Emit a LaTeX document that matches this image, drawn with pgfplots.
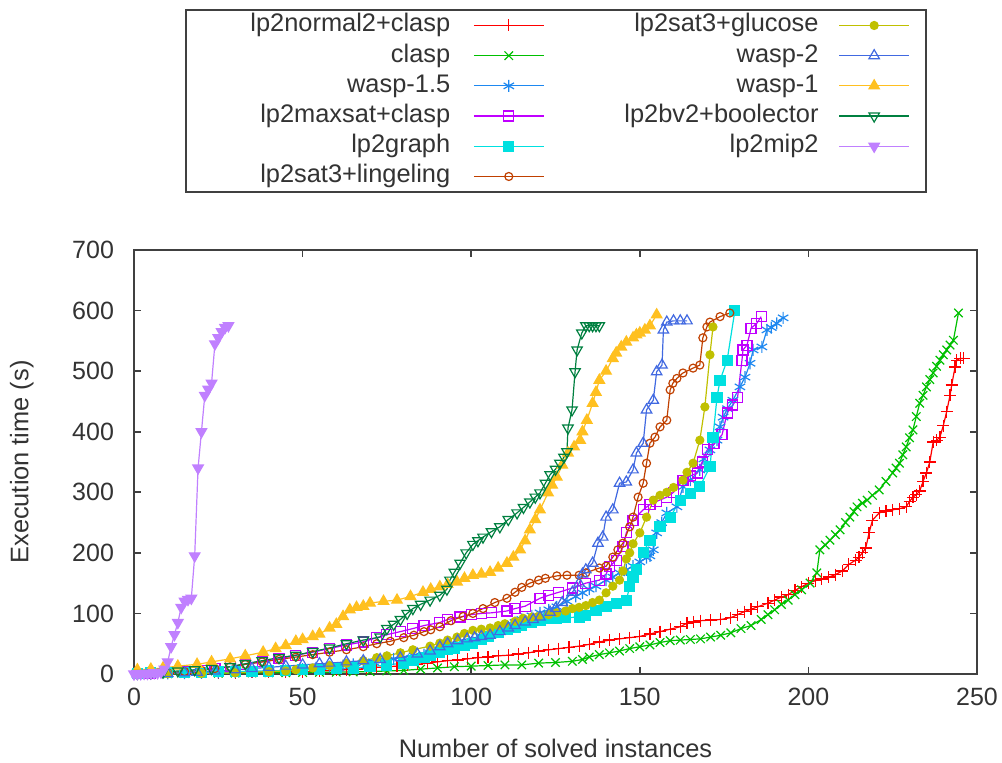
\documentclass[border=0pt]{standalone}
\usepackage{fontspec}
\setmainfont{Liberation Sans}
\usepackage{pgfplots}
\pgfplotsset{compat=1.18}

\definecolor{cRed}{HTML}{FF0000}
\definecolor{cGreen}{HTML}{00C000}
\definecolor{cDodger}{HTML}{1E88F0}
\definecolor{cPurple}{HTML}{C000FF}
\definecolor{cCyan}{HTML}{00E0E0}
\definecolor{cBrown}{HTML}{C04000}
\definecolor{cOlive}{HTML}{C0C000}
\definecolor{cRoyal}{HTML}{4169E1}
\definecolor{cGold}{HTML}{FFC020}
\definecolor{cDkGreen}{HTML}{008040}
\definecolor{cLav}{HTML}{C080FF}

\pgfplotsset{
  s1/.style={color=cRed, mark=+, mark size=3pt, line width=0.6pt, mark options={solid}},
  s2/.style={color=cGreen, mark=x, mark size=3pt, line width=0.6pt, mark options={solid}},
  s3/.style={color=cDodger, mark=asterisk, mark size=3pt, line width=0.6pt, mark options={solid}},
  s4/.style={color=cPurple, mark=square, mark size=2.5pt, line width=0.6pt, mark options={solid}},
  s5/.style={color=cCyan, mark=square*, mark size=2.5pt, line width=0.6pt, mark options={solid}},
  s6/.style={color=cBrown, mark=o, mark size=2pt, line width=0.6pt, mark options={solid}},
  s7/.style={color=cOlive, mark=*, mark size=2pt, line width=0.6pt, mark options={solid}},
  s8/.style={color=cRoyal, mark=triangle, mark size=3pt, line width=0.6pt, mark options={solid}},
  s9/.style={color=cGold, mark=triangle*, mark size=3pt, line width=0.6pt, mark options={solid}},
  s10/.style={color=cDkGreen, mark=triangle, mark size=3pt, line width=0.6pt, mark options={solid, rotate=180}},
  s11/.style={color=cLav, mark=triangle*, mark size=3pt, line width=0.6pt, mark options={solid, rotate=180}},
}

\begin{document}
\begin{tikzpicture}
\begin{axis}[
    scale only axis,
    width=421.5pt, height=212pt,
    xmin=0, xmax=250,
    ymin=0, ymax=700,
    xtick={0,50,...,250},
    ytick={0,100,...,700},
    tick align=inside,
    major tick length=3.5pt,
    axis line style={line width=0.9pt, black!75},
    every tick/.style={black!75, line width=0.8pt},
    tick label style={font=\fontsize{12.5}{15}\selectfont, text=black!80},
    /pgf/number format/assume math mode=true,
    x tick label style={yshift=-3.5pt},
    y tick label style={xshift=-6.5pt},
    xlabel={Number of solved instances},
    ylabel={Execution time (s)},
    every axis x label/.style={at={(axis description cs:0.5,0)}, anchor=center, yshift=-37pt,
        font=\fontsize{12.7}{15}\selectfont, text=black!80},
    every axis y label/.style={at={(axis description cs:-0.133,0.5)}, anchor=center, rotate=90,
        font=\fontsize{12.7}{15}\selectfont, text=black!80},
    clip=false,
    legend columns=2,
    legend plot pos=right,
    legend cell align=right,
    legend image code/.code={\draw[mark repeat=2,mark phase=2,#1] plot coordinates {(0pt,0pt) (17.5pt,0pt) (35pt,0pt)};},
    legend style={
        at={(0.5006,1.568)}, anchor=north,
        draw=black!75, line width=0.8pt,
        inner xsep=8pt, inner ysep=1.5pt,
        row sep=2.6pt,
        font=\fontsize{12.7}{15}\selectfont,
        text=black!80,
        nodes={inner sep=0pt, text height=9.5pt, text depth=3pt},
        /tikz/column 1/.style={column sep=11.5pt, nodes={text width=124pt, align=right}},
        /tikz/column 2/.style={column sep=40pt},
        /tikz/column 3/.style={column sep=10pt},
    },
]

% lp2normal2+clasp
\addplot[s1, forget plot] coordinates {
(1,0.5)(5,0.5)(10,1)(15,1)(20,1.5)(25,1.5)(30,2)(35,2.5)(40,3)(45,3.5)(50,4)(55,5)(60,6)(63,7)(66,8)(69,9)(72,11)(75,12)(78,13)(81,15)(84,16)(87,18)(90,20)(93,22)(96,23)(99,25)(102,27)(105,28)(108,30)(111,31)(114,33)(117,35)(120,38)(123,40)(126,42)(129,44)(132,46)(135,49)(138,53)(141,56)(144,58)(147,60)(150,62)(153,66)(156,70)(159,74)(162,78)(164,84)(166,86)(168,88)(171,89)(174,90)(177,93)(179,98)(181,103)(183,107)(185,111)(188,117)(190,122)(192,127)(194,131)(196,138)(198,144)(200,150)(202,154)(204,157)(206,160)(208,164)(210,170)(212,181)(214,188)(215,193)(216,200)(217,208)(218,233)(219,254)(221,266)(223,269)(225,271)(227,273)(229,276)(230,285)(231,292)(232,296)(233,302)(234,318)(235,332)(236,350)(237,383)(238,386)(239,391)(240,410)(241,433)(242,460)(242.5,477)(243.5,507)(244,518)(245,521)(246,521)
};
% clasp
\addplot[s2, forget plot] coordinates {
(1,0.3)(5,0.3)(10,0.5)(15,0.7)(20,1)(25,1.2)(30,1.5)(35,1.7)(40,2)(45,2.2)(50,2.5)(55,2.8)(60,3)(65,3.5)(70,4)(75,5)(80,6)(85,8)(90,10)(95,12)(100,13)(105,14)(110,15)(115,15)(120,18)(125,19)(130,21)(133,24)(135,28)(138,32)(141,35)(144,38)(147,42)(150,45)(153,48)(156,52)(159,55)(162,56)(165,57)(168,58)(171,61)(174,64)(177,68)(180,75)(183,80)(186,90)(188,98)(190,106)(192,115)(194,122)(196,131)(198,139)(200.5,150)(202.5,167)(203.4,205)(205,213)(206.4,221)(208,230)(209.4,238)(211,250)(212.3,259)(213.5,268)(214.4,276)(216,282)(217.4,287)(219,295)(221,304)(223,318)(225,332)(226,340)(227,348)(228,362)(229,375)(230,390)(231,403)(232,425)(233,447)(234,460)(235,474)(236,486)(237,497)(238,508)(239,518)(240,527)(241,535)(242,543)(243,551)(244.5,596)
};
% wasp-1.5
\addplot[s3, forget plot] coordinates {
(1,0.5)(5,0.7)(10,1)(15,1.5)(20,2)(25,2.5)(30,3)(35,4)(40,5)(45,6)(50,8)(54,10)(58,12)(62,14)(65,16)(68,18)(71,20)(74,23)(77,25)(80,27)(83,30)(86,32)(88,35)(90.7,40)(93,45)(95,48)(98,52)(100.5,57)(103,62)(105,67)(108,73)(110.6,78)(113,85)(115,90)(118,96)(120.4,101)(123,106)(125.4,111)(128.4,120)(131,128)(133,134)(135,140)(137,145)(140,155)(142,160)(144,167)(146,172)(148,178)(150,185)(152,192)(153,195)(154,205)(155,233)(156.5,250)(158,266)(161,276)(162.8,309)(165,320)(167.8,337)(169,355)(170.8,370)(172.9,386)(173.8,408)(174.7,424)(176,438)(177.6,452)(179.7,474)(181.2,490)(182.7,513)(183.6,535)(186.2,540)(187.7,568)(189,572)(190.6,579)(192.5,588)
};
% lp2maxsat+clasp
\addplot[s4, forget plot] coordinates {
(1,0.5)(5,1)(10,2)(15,4)(20,6)(24,9)(28.5,12)(33,16)(38,20)(43,25)(48,31)(53,36)(58,42)(63,48)(68,53)(72,60)(75,65)(79,70)(82.7,75)(86,80)(90.7,85)(93,90)(96.7,94)(100,98)(103,100)(106,101)(110.6,104)(113,108)(116,112)(120.4,125)(123,130)(126,135)(130,142)(134,150)(138,155)(140,165)(141,177)(143,188)(145,210)(146,233)(148,254)(151,271)(153,280)(155,285)(158,292)(160,300)(162.8,320)(165,327)(167,332)(168.5,350)(170,370)(172,380)(174.4,395)(175.9,431)(177.6,444)(179,457)(180.3,518)(180.6,535)(181.8,543)(183,571)(184.7,579)(186,590)
};
% lp2graph
\addplot[s5, forget plot] coordinates {
(1,1)(5,2)(10,2)(15,2.5)(20,3)(25,3.5)(30,4)(35,4.5)(40,5)(45,6)(50,7)(55,8)(60,9)(65,10)(70,12)(75,15)(80,18)(83,22)(86,27)(88,30)(90.7,35)(93,40)(95,43)(98,47)(100.5,51)(103,57)(105,62)(108,68)(110.6,73)(113,77)(115,80)(118,85)(120.4,89)(123,91)(125.4,92)(128,93)(132,94)(134,97)(137,105)(140,111)(143,117)(146,122)(147,144)(148,160)(149,172)(151,200)(153,221)(156,243)(159,259)(162,287)(165,298)(167.8,309)(170.8,342)(171.7,391)(172.9,457)(173.8,485)(175.9,518)(178.2,600)
};
% lp2sat3+lingeling
\addplot[s6, forget plot] coordinates {
(1,0.5)(5,1)(10,2)(15,4)(20,6)(24,9)(28.5,12)(33,16)(38,20)(43,24)(48,28)(53,32)(58,36)(63,40)(68,45)(72,50)(76,54)(80,60)(83,64)(86,70)(88,73)(90.7,78)(94,88)(97.6,95)(100.5,100)(103.5,108)(107,118)(110.6,125)(113,135)(115,143)(117.4,150)(120,155)(122,158)(125.4,162)(128.4,163)(132,163)(134,167)(138,175)(140,178)(142,193)(143.5,205)(145,216)(147,243)(148,259)(149.5,292)(151,315)(152,348)(153,381)(154.5,391)(156,408)(158,419)(159,469)(159.8,480)(161,488)(162.8,497)(165.8,505)(167.8,510)(168.7,555)(169.9,573)(170.8,581)(173.8,590)(176.7,596)
};
% lp2sat3+glucose
\addplot[s7, forget plot] coordinates {
(1,0.3)(10,0.5)(20,1)(30,2)(40,4)(45,5)(48,7)(53,10)(58,14)(63,18)(68,22)(72,27)(75,30)(79,35)(82.7,40)(87.8,46)(90.7,51)(93,56)(95.8,61)(98,67)(100.5,72)(103,74)(105.6,76)(108,80)(110,83)(113,87)(115.4,92)(118,94)(120,95)(123,98)(125.4,101)(128,104)(130,108)(132,110)(134,113)(136,118)(138,122)(140,134)(142,145)(144,155)(145,170)(146,190)(147,200)(148,215)(150,233)(152,259)(154,287)(156,295)(158,300)(160,308)(162.8,320)(164,333)(165.8,348)(167.8,386)(169.3,441)(170.8,527)(171.7,573)
};
% wasp-2
\addplot[s8, forget plot] coordinates {
(1,0.3)(5,0.5)(10,1)(15,2)(18.7,3)(24,5)(30,7)(35,9)(40,11)(45,13)(50,15)(55,17)(58,18)(63,20)(68,22)(73,24)(79,27)(84,33)(87.8,38)(90.7,45)(93,50)(96,55)(98.8,58)(101,60)(103,62)(105.6,64)(108.5,70)(111,76)(113,80)(116,86)(118.4,90)(120.4,94)(123.4,102)(125,108)(127,118)(130,135)(132,150)(133,165)(134,172)(136,183)(137.6,216)(139,226)(140,259)(142,271)(144,315)(146,317)(148,337)(149,365)(151,381)(152,436)(154,452)(155,499)(156.6,510)(157,568)(158,581)(160,583)(162,583)(164,583)
};
% wasp-1
\addplot[s9, forget plot] coordinates {
(1,7)(5,8)(8.6,10)(13,13)(18.7,16)(23,20)(28.5,25)(33,30)(38.3,36)(42,42)(45,47)(48,54)(50,57)(53,62)(55,66)(58,76)(60,82)(62,95)(64,106)(66,110)(68,112)(70,117)(74,120)(78,122)(82,128)(85.7,135)(88,140)(90.7,144)(93,148)(95.8,152)(98,158)(100.5,163)(103,165)(105.6,168)(108,175)(110.6,183)(112.5,193)(114.5,205)(116,220)(117.4,238)(119,255)(120.4,271)(122.8,299)(124,312)(125.4,325)(127,345)(128.7,365)(130.5,375)(132.3,386)(133,400)(134.3,419)(136,447)(137,465)(138,485)(140,500)(142,521)(143,530)(144.5,540)(146,548)(148,555)(149,560)(150,563)(151.5,568)(153,575)(155,593)
};
% lp2bv2+boolector
\addplot[s10, forget plot] coordinates {
(1,1)(5,2)(8.6,3)(13,5)(18,7)(23,9)(28.5,12)(33,17)(38,22)(43,27)(48,31)(53,37)(58,43)(63,50)(68,56)(73,61)(75,75)(77,82)(79,90)(81,100)(82.7,108)(85,115)(87.8,122)(90.7,130)(92.8,140)(93.7,155)(95,168)(96.7,183)(98.5,200)(100.5,214)(102,220)(103.5,226)(106,235)(108.5,243)(111,255)(113.6,266)(115.5,275)(117.4,284)(119,292)(120.4,299)(122,315)(123.4,329)(125,338)(126.3,348)(127.5,358)(128.4,367)(128.7,406)(129.9,436)(130.8,499)(131.4,535)(132.8,563)(134,575)(135,575)(136,575)(137,575)(138,575)
};
% lp2mip2
\addplot[s11, forget plot] coordinates {
(0,0)(1,0.5)(2,0.5)(3,1)(4,1)(5,1.5)(6,2)(7,2)(8,3)(9,8)(10,20)(11,45)(12,65)(13,85)(14,110)(15,120)(16,123)(17,125)(18,195)(19,340)(20,400)(21,460)(22,470)(23,480)(24,545)(25,555)(26,565)(27,572)(28,575)
};

\addlegendimage{s1}\addlegendentry{lp2normal2+clasp}
\addlegendimage{s7}\addlegendentry{lp2sat3+glucose}
\addlegendimage{s2}\addlegendentry{clasp}
\addlegendimage{s8}\addlegendentry{wasp-2}
\addlegendimage{s3}\addlegendentry{wasp-1.5}
\addlegendimage{s9}\addlegendentry{wasp-1}
\addlegendimage{s4}\addlegendentry{lp2maxsat+clasp}
\addlegendimage{s10}\addlegendentry{lp2bv2+boolector}
\addlegendimage{s5}\addlegendentry{lp2graph}
\addlegendimage{s11}\addlegendentry{lp2mip2}
\addlegendimage{s6}\addlegendentry{lp2sat3+lingeling}

\end{axis}
\pgfresetboundingbox
\path[use as bounding box] (-67pt,-44pt) rectangle (434pt,337pt);
\end{tikzpicture}
\end{document}
